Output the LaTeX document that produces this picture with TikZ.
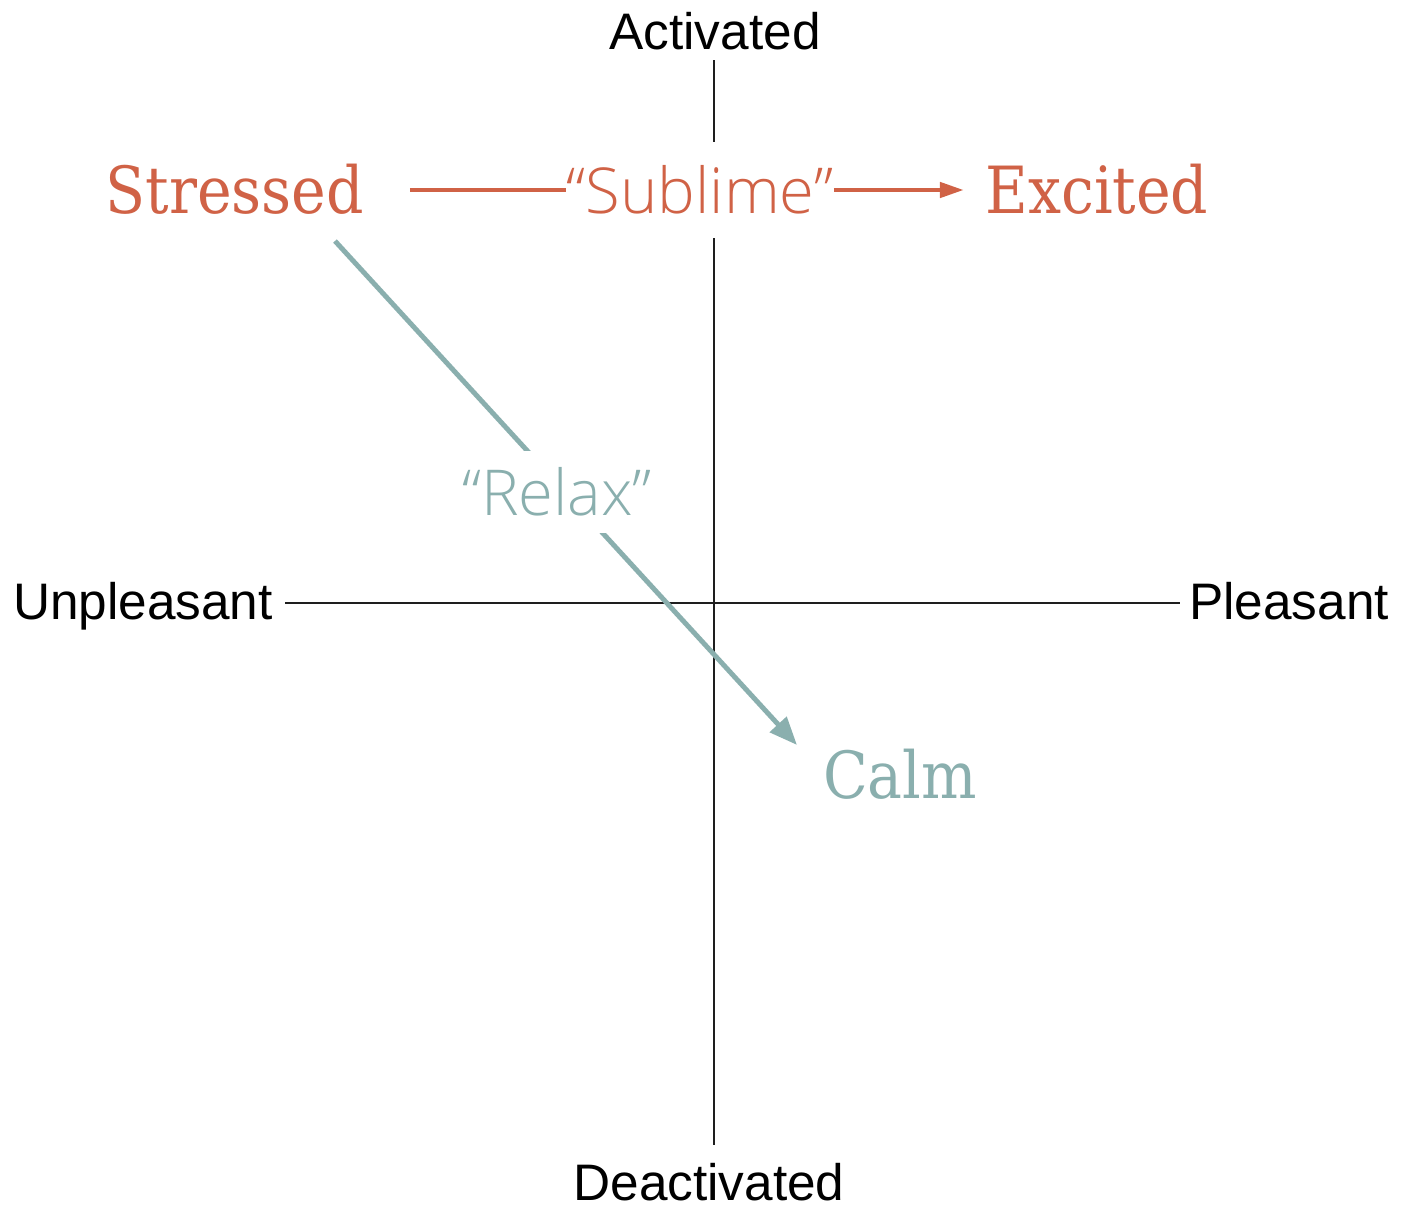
\documentclass[tikz,border=0pt]{standalone}
\usepackage{fontspec}
\setmainfont{Liberation Sans}
\newfontfamily\slabfont{DejaVu Serif Condensed}
\newfontfamily\lightfont{Open Sans Light}
\usetikzlibrary{arrows.meta}
\definecolor{rust}{RGB}{208,98,70}
\definecolor{sage}{RGB}{138,175,174}
\definecolor{axisgray}{RGB}{30,30,30}
\begin{document}
\begin{tikzpicture}[x=0.01cm,y=-0.01cm,
  axisline/.style={draw=axisgray, line width=0.8pt},
  axlabel/.style={font=\fontsize{14.6pt}{16pt}\selectfont, inner sep=0, anchor=base},
  statebox/.style={font=\slabfont\fontsize{18.5pt}{22pt}\selectfont, inner sep=0, anchor=base},
  phrase/.style={font=\lightfont\fontsize{18pt}{21pt}\selectfont, inner xsep=0, inner ysep=0, fill=white},
  redline/.style={draw=rust, line width=1.3pt},
  tealline/.style={draw=sage, line width=1.4pt}]
\useasboundingbox (0,0) rectangle (1405,1206);
% axes
\draw[axisline] (714,60) -- (714,1145);
\draw[axisline] (285,603) -- (1180,603);
\node[axlabel] (act) at (715,50) {Activated};
\node[axlabel] (deact) at (709,1200) {Deactivated};
\node[axlabel] (unp) at (143,619) {Unpleasant};
\node[axlabel] (ple) at (1289,619) {Pleasant};
% states
\node[statebox, text=rust] (stressed) at (235,213) {Stressed};
\node[statebox, text=rust] (excited) at (1097,213) {Excited};
\node[statebox, text=sage] (calm) at (900,798) {Calm};
% sublime
\node[phrase, text=rust, minimum height=0.95cm] (sublime) at (700,190) {“Sublime”};
\draw[redline, shorten <=0.45cm] (stressed.east |- sublime.west) -- (sublime.west);
\draw[redline, shorten >=0.21cm, -{Triangle[length=0.24cm,width=0.15cm]}] (sublime.east) -- (excited.west |- sublime.east);
% relax
\coordinate (rstart) at (335,241);
\coordinate (rend) at (797,745);
\draw[tealline, -{Triangle[length=0.28cm,width=0.22cm]}] (rstart) -- (rend);
\node[phrase, text=sage, minimum height=0.81cm] (relax) at (557,492) {“Relax”};
\end{tikzpicture}
\end{document}
